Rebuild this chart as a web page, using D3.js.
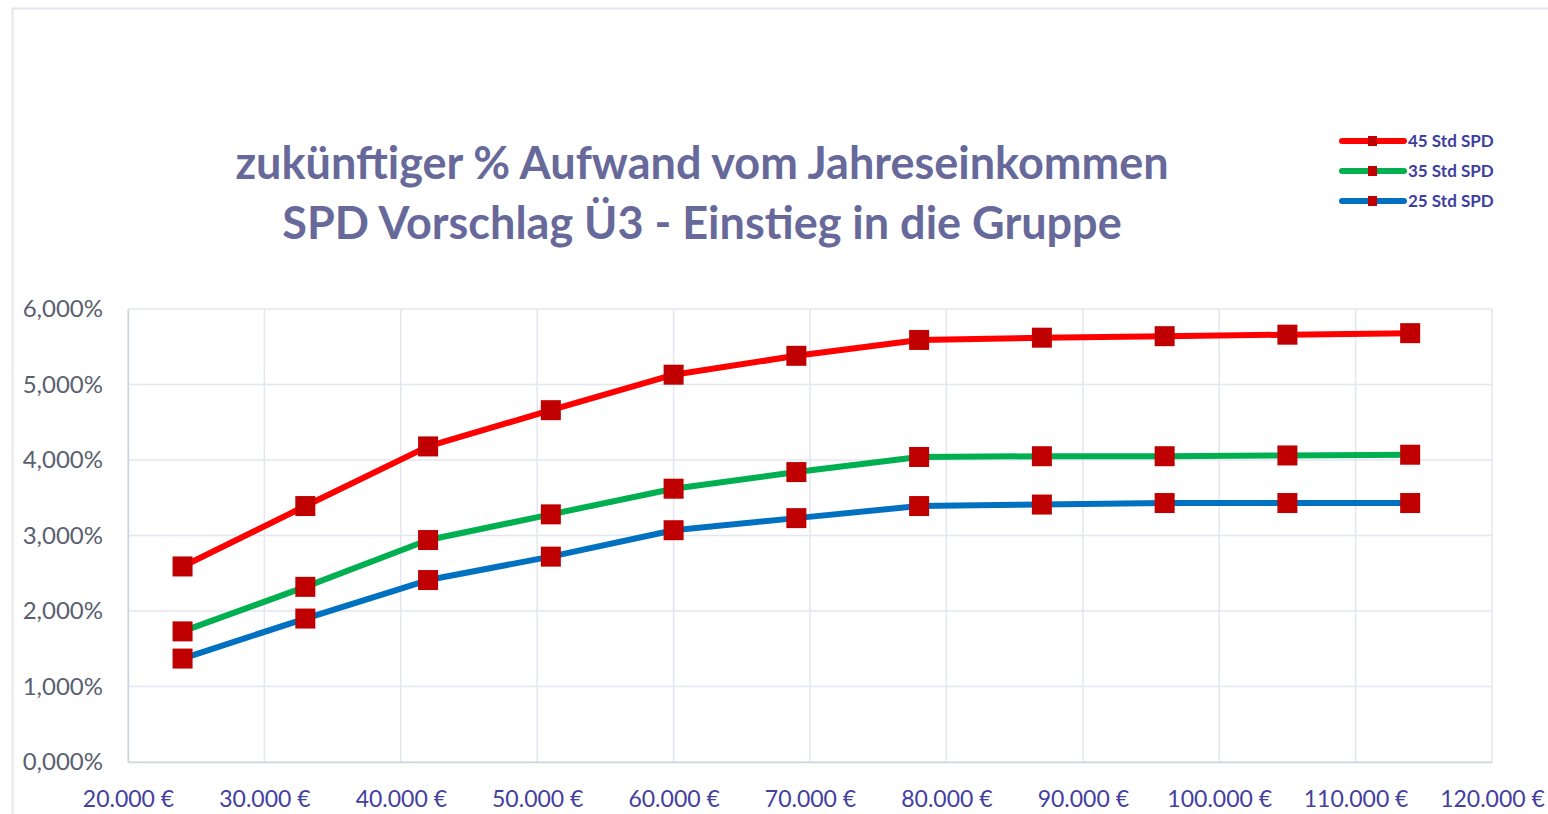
<!DOCTYPE html>
<html>
<head>
<meta charset="utf-8">
<script src="https://cdn.jsdelivr.net/npm/d3@7"></script>
<style>
html, body { margin: 0; padding: 0; background: #fff; }
svg { display: block; }
text { font-family: Lato, "Open Sans", sans-serif; }
</style>
</head>
<body>
<svg></svg>
<script>
const width = 1548;
const height = 814;

// data
const incomes = [24000, 33000, 42000, 51000, 60000, 69000, 78000, 87000, 96000, 105000, 114000];
const std45 = [2.59, 3.39, 4.18, 4.66, 5.13, 5.38, 5.59, 5.62, 5.64, 5.66, 5.68];
const std35 = [1.73, 2.32, 2.94, 3.28, 3.62, 3.84, 4.04, 4.05, 4.05, 4.06, 4.07];
const std25 = [1.37, 1.90, 2.41, 2.72, 3.07, 3.23, 3.39, 3.41, 3.43, 3.43, 3.43];
const seriesNames = ['45 Std SPD', '35 Std SPD', '25 Std SPD'];
const seriesColors = ['#ff0000', '#00b050', '#0070c0'];
const xTicks = [20000, 30000, 40000, 50000, 60000, 70000, 80000, 90000, 100000, 110000, 120000];
const yTicks = [0, 1, 2, 3, 4, 5, 6];
const titleLines = ['zukünftiger % Aufwand vom Jahreseinkommen', 'SPD Vorschlag Ü3 - Einstieg in die Gruppe'];

const markerColor = '#c00000';
const markerSize = 20;
const gridColor = '#e3e6ee';

const plot = {left: 128, right: 1492, top: 309, bottom: 762};

var svg = d3.select('svg').attr('width', width).attr('height', height);

// chart frame
svg.append('path')
.attr('d', 'M12.5,' + height + ' V8.5 H' + width)
.style('fill', 'none').style('stroke', '#e4e7ee').style('stroke-width', 2);

var x = d3.scaleLinear().domain([20000, 120000]).range([plot.left, plot.right]);
var y = d3.scaleLinear().domain([0, 6]).range([plot.bottom, plot.top]);

// grid
var grid = svg.append('g');
grid.selectAll('line.h').data(yTicks).enter().append('line').classed('h', true)
.attr('x1', plot.left).attr('x2', plot.right)
.attr('y1', d => y(d)).attr('y2', d => y(d))
.style('stroke', gridColor).style('stroke-width', 1.5);
grid.selectAll('line.v').data(xTicks).enter().append('line').classed('v', true)
.attr('x1', d => x(d)).attr('x2', d => x(d))
.attr('y1', plot.top).attr('y2', plot.bottom)
.style('stroke', gridColor).style('stroke-width', 1.5);

// axes
var fmtEuro = d => d3.format(',')(d).replace(/,/g, '.') + ' €';
var fmtPct = d => d3.format('.3f')(d).replace('.', ',') + '%';

var xAxis = svg.append('g')
.attr('transform', 'translate(0,' + plot.bottom + ')')
.call(d3.axisBottom(x).tickValues(xTicks).tickFormat(fmtEuro).tickSize(0).tickPadding(29));
xAxis.select('.domain').style('stroke', '#cfd5df').style('stroke-width', 1.5);
xAxis.selectAll('text').style('font-size', '23px').style('fill', '#43409e');

var yAxis = svg.append('g')
.attr('transform', 'translate(' + plot.left + ',0)')
.call(d3.axisLeft(y).tickValues(yTicks).tickFormat(fmtPct).tickSize(0).tickPadding(25));
yAxis.select('.domain').style('stroke', '#cfd5df').style('stroke-width', 1.5);
yAxis.selectAll('text').style('font-size', '24px').style('fill', '#5a5f70');

// series
var series = [std45, std35, std25].map((vals, i) => ({
	name: seriesNames[i],
	color: seriesColors[i],
	points: vals.map((v, j) => ({x: incomes[j], y: v}))
}));

var line = d3.line().x(d => x(d.x)).y(d => y(d.y));

var layer = svg.append('g');
layer.selectAll('path.series').data(series).enter().append('path').classed('series', true)
.attr('d', d => line(d.points))
.style('fill', 'none').style('stroke', d => d.color)
.style('stroke-width', 6).style('stroke-linejoin', 'round');

series.forEach(s => {
	layer.selectAll(null).data(s.points).enter().append('rect')
	.attr('x', d => x(d.x) - markerSize/2).attr('y', d => y(d.y) - markerSize/2)
	.attr('width', markerSize).attr('height', markerSize)
	.style('fill', markerColor);
});

// title
var titleY = [179, 239];
titleLines.forEach((t, i) => {
	svg.append('text')
	.attr('x', 702).attr('y', titleY[i])
	.attr('text-anchor', 'middle')
	.style('font-size', '45px').style('font-weight', 'bold')
	.style('fill', '#67699b')
	.text(t);
});

// legend
var legend = svg.append('g').attr('transform', 'translate(1340,141)');
var item = legend.selectAll('g').data(series).enter().append('g')
.attr('transform', (d, i) => 'translate(0,' + i*30 + ')');
item.append('line')
.attr('x1', 2).attr('x2', 64).attr('y1', 0).attr('y2', 0)
.style('stroke', d => d.color).style('stroke-width', 6).style('stroke-linecap', 'round');
item.append('rect')
.attr('x', 28).attr('y', -5).attr('width', 9).attr('height', 10)
.style('fill', markerColor);
item.append('text')
.attr('x', 68).attr('y', 0).attr('dy', '0.35em')
.style('font-size', '17px').style('font-weight', 'bold')
.style('fill', '#3d3ea0')
.text(d => d.name);
</script>
</body>
</html>
